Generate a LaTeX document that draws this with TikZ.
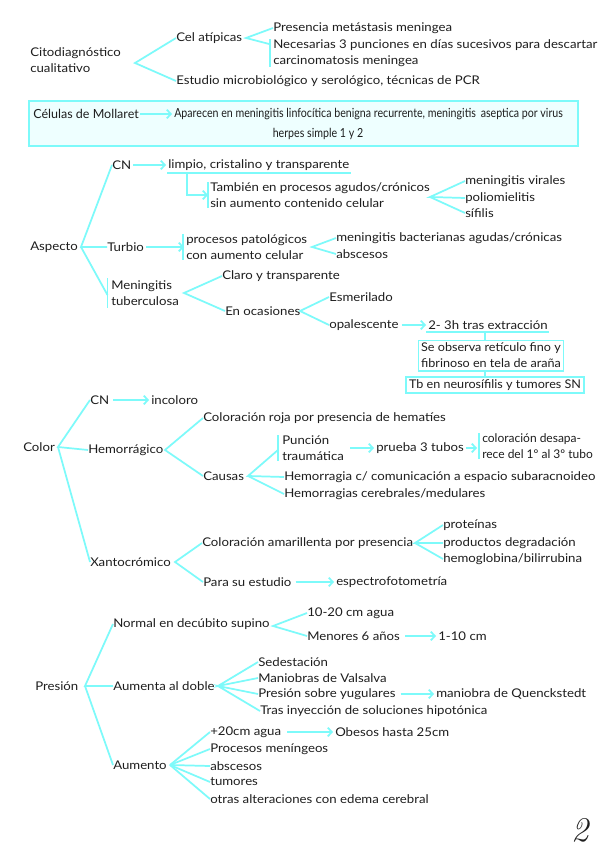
\documentclass[tikz,border=0pt]{standalone}
\usepackage{fontspec}
\newfontfamily\hwfont[FakeStretch=1.1]{Lato}
\newfontfamily\hwn{Lato}
\newfontfamily\hwb[FakeStretch=1.05]{Lato}
\newfontfamily\nfont[FakeStretch=0.85]{Lato}
\newfontfamily\nfontb{Lato}
\usetikzlibrary{arrows.meta,calc}
\definecolor{cy}{RGB}{125,250,250}
\definecolor{cyf}{RGB}{238,255,255}
\definecolor{ink}{RGB}{30,30,30}
\begin{document}
\begin{tikzpicture}[x=0.75pt,y=-0.75pt,
  t/.style={inner sep=0pt,anchor=west,align=left,text=ink,font=\hwfont\fontsize{9}{12}\selectfont},
  ln/.style={draw=cy,line width=1.3pt},
  arr/.style={draw=cy,line width=1.3pt,-{Straight Barb[length=3pt,width=6.5pt]},shorten >=1.5pt},
  bx/.style={draw=cy,line width=1.3pt,inner sep=2pt,align=left,text=ink,font=\hwb\fontsize{9}{12}\selectfont}]
\useasboundingbox[fill=white] (0,0) rectangle (599,848);

% ---------- Citodiagnostico
\node[t] (cito) at (30,60) {Citodiagnóstico\\cualitativo};
\node[t] (cel) at (176,38) {Cel atípicas};
\node[t] (pres) at (273,28) {Presencia metástasis meningea};
\node[t] (nec) at (273,53) {Necesarias 3 punciones en días sucesivos para descartar\\carcinomatosis meningea};
\node[t] (estu) at (176,81) {Estudio microbiológico y serológico, técnicas de PCR};
\coordinate (h1) at (135,63);
\draw[ln] (cel.west) -- (h1) -- (estu.west);
\coordinate (h2) at (246,38);
\draw[ln] (pres.west) -- (h2) -- ($(nec.north west)+(-3,5)$);
\draw[ln] ($(nec.north west)+(-3,0)$) -- ($(nec.south west)+(-3,0)$);

% ---------- Mollaret box
\node[draw=cy,fill=cyf,line width=1.3pt,minimum width=411.75pt,minimum height=33.75pt,inner sep=0pt] (mbox) at (303.5,123.5) {};
\node[t,font=\nfontb\fontsize{9.4}{12}\selectfont] (mol) at (33,114) {Células de Mollaret};
\node[t,font=\nfont\fontsize{9.4}{12}\selectfont] (apa) at (174,114) {Aparecen en meningitis linfocítica benigna recurrente, meningitis\, aseptica por virus};
\node[t,anchor=center,font=\nfont\fontsize{9.4}{12}\selectfont] (her) at (318,134) {herpes simple 1 y 2};
\draw[arr] (mol.east) ++(1,0) -- (apa.west);

% ---------- Aspecto
\node[t] (asp) at (30,247) {Aspecto};
\node[t] (cn1) at (112,165) {CN};
\node[t] (limp) at (168,165) {limpio, cristalino y transparente};
\node[t] (tamb) at (210,195) {También en procesos agudos/crónicos\\sin aumento contenido celular};
\node[t] (mv) at (465,181) {meningitis virales};
\node[t] (polio) at (465,198) {poliomielitis};
\node[t] (sif) at (465,213) {sífilis};
\node[t] (turb) at (107,247) {Turbio};
\node[t] (proc) at (186,247) {procesos patológicos\\con aumento celular};
\node[t] (mba) at (336,238) {meningitis bacterianas agudas/crónicas};
\node[t] (absc) at (336,254) {abscesos};
\node[t] (mtb) at (111,293) {Meningitis\\tuberculosa};
\node[t] (claro) at (222,276) {Claro y transparente};
\node[t] (enoc) at (225,311) {En ocasiones};
\node[t] (esm) at (329,297) {Esmerilado};
\node[t] (opal) at (329,325) {opalescente};
\node[t] (h23) at (428,325) {2- 3h tras extracción};
\node[bx] (se) at (491,355.5) {Se observa retículo fino y\\fibrinoso en tela de araña};
\node[bx] (tb) at (495,385) {Tb en neurosífilis y tumores SN};

\coordinate (ha) at (81,247);
\draw[ln] (cn1.west) -- (ha) -- (turb.west);
\draw[ln] (ha) -- ($(mtb.west)+(-3.5,2)$);
\draw[ln] ($(mtb.north west)+(-3.5,-2)$) -- ($(mtb.south west)+(-3.5,2)$);
\draw[arr] (cn1.east) ++(2,0) -- (limp.west);
\draw[ln] ($(limp.south west)+(-1,2)$) -- ($(limp.south east)+(1,2)$);
\draw[arr] ($(limp.south west)+(19,2)$) |- (tamb.west);
\draw[ln] ($(tamb.north west)+(-2,0)$) -- ($(tamb.south west)+(-2,0)$);
\coordinate (hv) at (430,197);
\draw[ln] (mv.west) -- (hv) -- (polio.west);
\draw[ln] (hv) -- (sif.west);
\draw[arr] (turb.east) ++(2,0) -- (proc.west);
\draw[ln] ($(proc.north west)+(-3,0)$) -- ($(proc.south west)+(-3,0)$);
\coordinate (hb) at (312,247);
\draw[ln] (mba.west) -- (hb) -- (absc.west);
\coordinate (hm) at (184,293);
\draw[ln] (claro.west) -- (hm) -- (enoc.west);
\coordinate (he) at (300,311);
\draw[ln] (esm.west) -- (he) -- (opal.west);
\draw[arr] (opal.east) ++(3,0) -- (h23.west);
\draw[ln] ($(h23.south west)+(-2,2)$) -- ($(h23.south east)+(1,2)$);
\coordinate (ud) at ($(h23.south west)+(57,2)$);
\draw[ln] (ud) -- (ud |- se.north);
\draw[ln] (ud |- se.south) -- (ud |- tb.north);

% ---------- Color
\node[t] (col) at (23,447) {Color};
\node[t] (cn2) at (90,400) {CN};
\node[t] (inc) at (151,400) {incoloro};
\node[t] (hem) at (88,450) {Hemorrágico};
\node[t] (roja) at (203,418) {Coloración roja por presencia de hematíes};
\node[t] (caus) at (203,476) {Causas};
\node[t] (punc) at (282,448) {Punción\\traumática};
\node[t] (prueba) at (376,448) {prueba 3 tubos};
\node[t,font=\hwn\fontsize{9}{12}\selectfont] (colo) at (482,446) {coloración desapa-\\rece del 1º al 3º tubo};
\node[t] (hemc) at (284,477) {Hemorragia c/ comunicación a espacio subaracnoideo};
\node[t] (hemcm) at (284,494) {Hemorragias cerebrales/medulares};
\node[t] (xan) at (90,562) {Xantocrómico};
\node[t] (amar) at (202,543) {Coloración amarillenta por presencia};
\node[t] (prot) at (443,525) {proteínas};
\node[t] (prod) at (443,543) {productos degradación};
\node[t] (hemo) at (443,559) {hemoglobina/bilirrubina};
\node[t] (para) at (203,582) {Para su estudio};
\node[t] (esp) at (336,582) {espectrofotometría};

\coordinate (hc) at (58,447);
\draw[ln] (cn2.west) -- (hc) -- (hem.west);
\draw[ln] (hc) -- (xan.west);
\draw[arr] (cn2.east) ++(4,0) -- (inc.west);
\coordinate (hh) at (165,450);
\draw[ln] (roja.west) -- (hh) -- (caus.west);
\coordinate (hca) at (248,476);
\draw[ln] ($(punc.west)+(-4,2)$) -- (hca) -- (hemc.west);
\draw[ln] (hca) -- (hemcm.west);
\draw[ln] ($(punc.north west)+(-4,0)$) -- ($(punc.south west)+(-4,0)$);
\draw[arr] (punc.east) ++(6,0) -- (prueba.west);
\draw[arr] (prueba.east) ++(2,0) -- ($(colo.west)+(-3,2)$);
\draw[ln] ($(colo.north west)+(-3,0)$) -- ($(colo.south west)+(-3,0)$);
\coordinate (hx) at (175,562);
\draw[ln] (amar.west) -- (hx) -- (para.west);
\coordinate (hy) at (415,543);
\draw[ln] (prot.west) -- (hy) -- (prod.west);
\draw[ln] (hy) -- (hemo.west);
\draw[arr] (para.east) ++(4,0) -- (esp.west);

% ---------- Presion
\node[t] (presion) at (35,686) {Presión};
\node[t] (norm) at (113,624) {Normal en decúbito supino};
\node[t] (d1020) at (307,613) {10-20 cm agua};
\node[t] (men) at (307,636) {Menores 6 años};
\node[t] (c110) at (438,636) {1-10 cm};
\node[t] (aum2) at (113,686) {Aumenta al doble};
\node[t] (sed) at (258,662) {Sedestación};
\node[t] (mani) at (258,678) {Maniobras de Valsalva};
\node[t] (pyug) at (258,694) {Presión sobre yugulares};
\node[t] (tras) at (260,711) {Tras inyección de soluciones hipotónica};
\node[t] (queck) at (436,694) {maniobra de Quenckstedt};
\node[t] (aum) at (113,765) {Aumento};
\node[t] (a1) at (210,732) {+20cm agua};
\node[t] (a2) at (210,749) {Procesos meníngeos};
\node[t] (a3) at (210,766) {abscesos};
\node[t] (a4) at (210,782) {tumores};
\node[t] (a5) at (210,799) {otras alteraciones con edema cerebral};
\node[t] (obes) at (335,732) {Obesos hasta 25cm};

\coordinate (hp) at (85,686);
\draw[ln] (norm.west) -- (hp) -- (aum2.west);
\draw[ln] (hp) -- (aum.west);
\coordinate (hn) at (273,626);
\draw[ln] (d1020.west) -- (hn) -- (men.west);
\draw[arr] (men.east) ++(5,0) -- (c110.west);
\coordinate (hd) at (218,686);
\draw[ln] (sed.west) -- (hd) -- (mani.west);
\draw[ln] (pyug.west) -- (hd) -- (tras.west);
\draw[arr] (pyug.east) ++(5,0) -- (queck.west);
\coordinate (hq) at (170,765);
\foreach \n in {a1,a2,a3,a4,a5} \draw[ln] (hq) -- (\n.west);
\draw[arr] (a1.east) ++(6,0) -- (obes.west);

\node[inner sep=0pt,text=ink,font=\fontsize{26}{26}\selectfont\itshape] (pg) at (580,830) {2};
\end{tikzpicture}
\end{document}
